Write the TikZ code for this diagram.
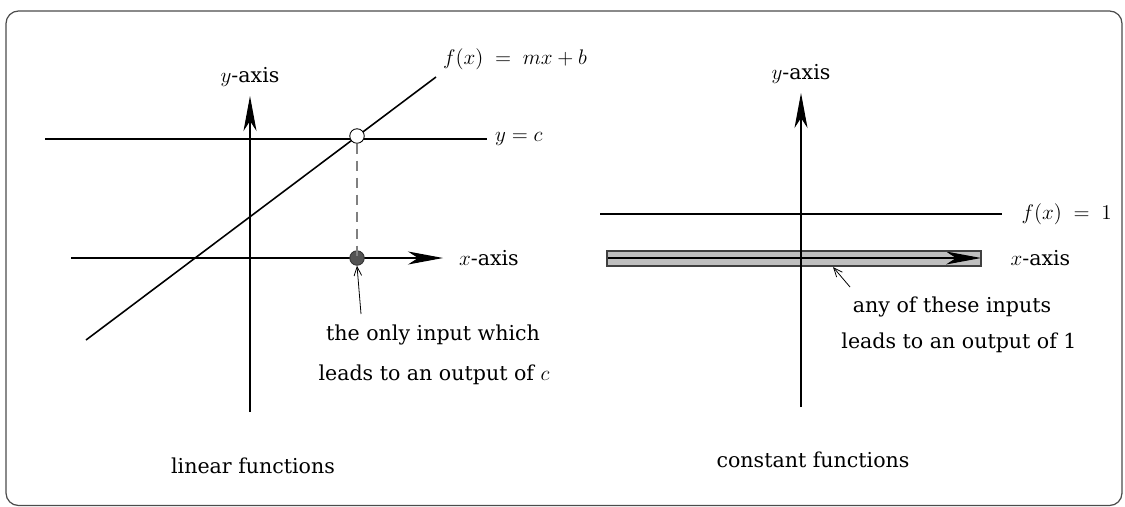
\documentclass[tikz,border=0pt]{standalone}
\usepackage{fontspec}
\setmainfont{DejaVu Serif}
\usepackage{tikz}
\usetikzlibrary{arrows.meta,positioning,calc}

\begin{document}
\begin{tikzpicture}[
    eixo/.style={line width=0.6pt, -{Stealth[length=7mm, width=2.6mm, inset=2mm]}},
    ponteiro/.style={line width=0.45pt, -{Straight Barb[length=1.8mm, width=1.5mm]}},
    rotulo/.style={font=\fontsize{11.7}{14}\selectfont, inner sep=1pt},
    grafico/.style={line width=0.9pt}
  ]
  % Area e moldura
  \useasboundingbox (0,0) rectangle (22.5,10.12);
  \draw[gray!60!black, line width=0.7pt, rounded corners=0.25cm] (0.12,0.01) rectangle (22.44,9.9);

  % Esquerda: funcoes lineares
  \coordinate (eyB) at (5.0,1.88);
  \coordinate (eyT) at (5.0,8.2);
  \coordinate (exL) at (1.42,4.96);
  \coordinate (exR) at (8.86,4.96);
  \coordinate (retaA) at (1.72,3.32);
  \coordinate (retaB) at (8.72,8.58);
  \coordinate (cL) at (0.9,7.34);
  \coordinate (cR) at (9.74,7.34);
  \coordinate (ptrA) at (7.22,3.84);
  % Retas e eixos
  \draw[line width=0.6pt] (cL) -- (cR);
  \draw[eixo] (exL) -- (exR);
  \draw[eixo] (eyB) -- (eyT);
  \draw[grafico] (retaA) -- (retaB);
  % Pontos
  \node[circle, draw, fill=white, line width=0.5pt, minimum size=0.29cm, inner sep=0pt] (aberto) at (7.14,7.40) {};
  \node[circle, draw=gray!40!black, fill=gray!65!black, line width=0.5pt, minimum size=0.29cm, inner sep=0pt] (cheio) at (7.14,4.96) {};
  \draw[gray, line width=0.6pt, dash pattern=on 2mm off 1.4mm] (aberto.south) -- (cheio.center);
  \draw[ponteiro] (ptrA) -- (cheio.south);
  % Rotulos
  \node[rotulo, above=0.15cm of eyT] (ly1) {$y$-axis};
  \node[rotulo, right=0.28cm of exR] (lx1) {$x$-axis};
  \node[rotulo, right=0.12cm of cR] (lc) {$y = c$};
  \node[rotulo, anchor=south west] (lf) at ($(retaB)+(0.1,0.1)$) {$f(x)\;=\;mx+b$};
  \node[rotulo] (txt1) at (8.66,3.42) {the only input which};
  \node[rotulo] (txt2) at (8.68,2.62) {leads to an output of $c$};
  \node[rotulo] (tit1) at (5.06,0.8) {linear functions};

  % Direita: funcoes constantes
  \coordinate (dyB) at (16.02,1.98);
  \coordinate (dyT) at (16.02,8.26);
  \coordinate (barraA) at (12.14,4.80);
  \coordinate (barraB) at (19.62,5.10);
  \coordinate (dxL) at (12.14,4.96);
  \coordinate (dxR) at (19.62,4.96);
  \coordinate (umL) at (12.0,5.84);
  \coordinate (umR) at (20.04,5.84);
  \coordinate (ptrB) at (17.0,4.38);
  \coordinate (alvoB) at (16.66,4.78);
  % Faixa de entradas
  \fill[gray!50] (barraA) rectangle (barraB);
  \draw[eixo] (dxL) -- (dxR);
  \draw[gray!50!black, line width=0.6pt] (barraA) rectangle (barraB);
  \draw[line width=1pt] (umL) -- (umR);
  \draw[eixo] (dyB) -- (dyT);
  \draw[ponteiro] (ptrB) -- (alvoB);
  % Rotulos
  \node[rotulo, above=0.15cm of dyT] (ly2) {$y$-axis};
  \node[rotulo, right=0.55cm of dxR] (lx2) {$x$-axis};
  \node[rotulo, right=0.35cm of umR] (lum) {$f(x)\;=\;1$};
  \node[rotulo] (txt3) at (19.04,3.98) {any of these inputs};
  \node[rotulo] (txt4) at (19.18,3.26) {leads to an output of 1};
  \node[rotulo] (tit2) at (16.26,0.92) {constant functions};
\end{tikzpicture}
\end{document}
